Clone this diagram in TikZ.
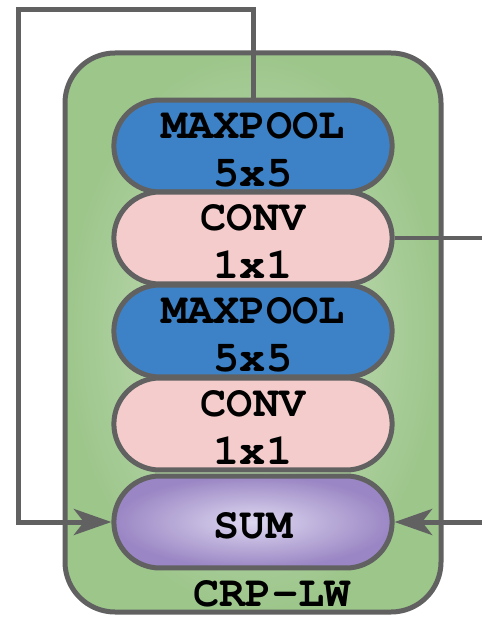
\documentclass[tikz,border=0pt]{standalone}
\usepackage[T1]{fontenc}
\usepackage{courier}
\usetikzlibrary{arrows.meta,shapes.misc}
\definecolor{edge}{HTML}{616161}
\definecolor{leaf}{HTML}{9DC68B}
\definecolor{leaflight}{HTML}{CDE3C4}
\definecolor{pool}{HTML}{3D82C6}
\definecolor{conv}{HTML}{F4CCCC}
\definecolor{sumdark}{HTML}{9A86C4}
\definecolor{sumlight}{HTML}{DED8F0}
\newcommand{\lift}{\rule{0pt}{19pt}}

\begin{document}
\begin{tikzpicture}[
  x=0.02cm, y=-0.02cm,
  font=\ttfamily\bfseries\fontsize{24.8}{27.6}\selectfont,
  pill/.style={rounded rectangle, draw=edge, line width=0.1cm, minimum width=5.8cm, minimum height=1.84cm, inner ysep=0pt, align=center},
  link/.style={draw=edge, line width=0.1cm},
  arr/.style={link, -{Stealth[length=0.75cm, width=0.52cm, inset=0.2cm]}}
]
\useasboundingbox (0,0) rectangle (481,621);

\shade[draw=edge, line width=0.1cm, rounded corners=1cm, inner color=leaflight, outer color=leaf] (65,53) rectangle (441,612);
\node (crp) at (272,594) {CRP-LW};

\node[pill, fill=pool] (pool1) at (253,146) {\lift MAXPOOL\\5x5};
\node[pill, fill=conv] (conv1) at (253,238) {\lift CONV\\1x1};
\node[pill, fill=pool] (pool2) at (253,331) {\lift MAXPOOL\\5x5};
\node[pill, fill=conv] (conv2) at (253,424) {\lift CONV\\1x1};
\node[pill, inner color=sumlight, outer color=sumdark] (sum) at (253,522) {\lift SUM};

\coordinate (loop) at (18,10);
\coordinate (out) at (490,0);
\draw[arr] (pool1.north) |- (loop) |- (sum.west);
\draw[link] (conv1.east) -- (conv1.east -| out);
\draw[arr] (sum.east -| out) -- (sum.east);
\end{tikzpicture}
\end{document}
